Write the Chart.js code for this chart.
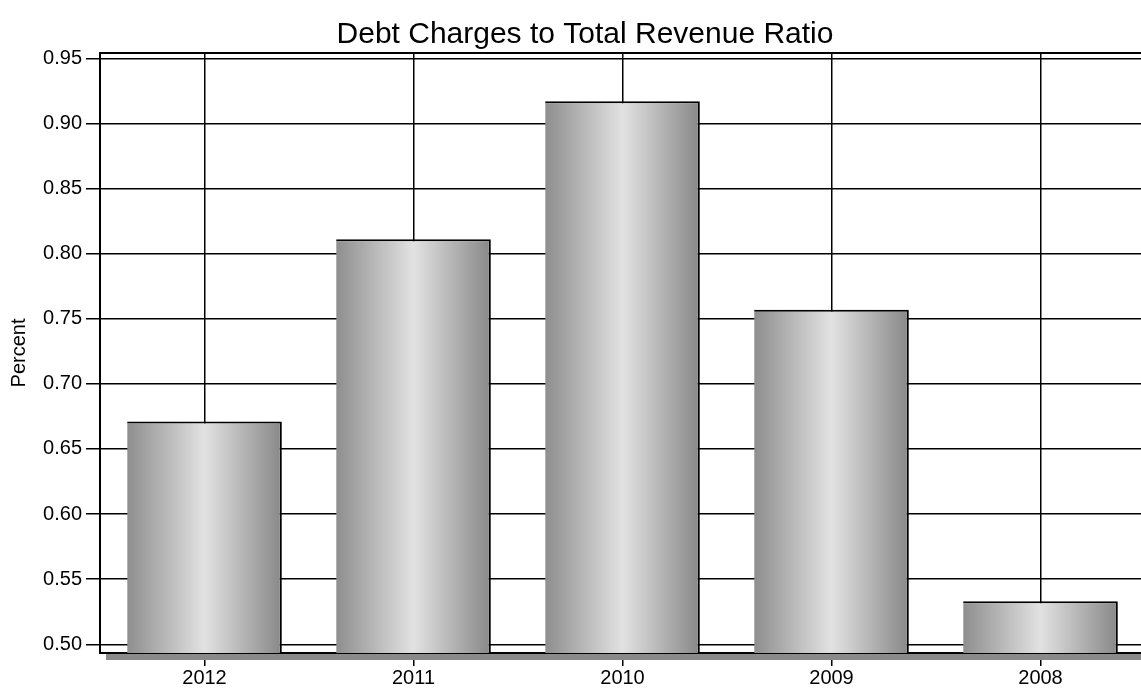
<!DOCTYPE html>
<html>
<head>
<meta charset="utf-8">
<script src="https://cdn.jsdelivr.net/npm/chart.js@4/dist/chart.umd.min.js"></script>
<style>
  html, body { margin: 0; padding: 0; background: #fff; overflow: hidden; }
  #wrap { width: 1145px; height: 688px; }
</style>
</head>
<body>
<div id="wrap"><canvas id="c" width="1145" height="688"></canvas></div>
<script>
// Fiscal years shown on the x axis, newest first
const years = ['2012', '2011', '2010', '2009', '2008'];
// Debt charges as a percentage of total revenue
const ratio = [0.671, 0.811, 0.917, 0.757, 0.533];
// Y axis tick values
const yTicks = [0.50, 0.55, 0.60, 0.65, 0.70, 0.75, 0.80, 0.85, 0.90, 0.95];

const TITLE = 'Debt Charges to Total Revenue Ratio';
const FONT = '"Liberation Sans", Arial, sans-serif';
const BAR_PCT = 0.74;

// Horizontal metallic gradient for each bar, placed from the category scale
function barFill(context) {
  const chart = context.chart;
  const xs = chart.scales && chart.scales.x;
  if (!chart.chartArea || !xs) return '#bbbbbb';
  const cx = xs.getPixelForValue(context.dataIndex);
  const w = (xs.width / years.length) * BAR_PCT;
  const g = chart.ctx.createLinearGradient(cx - w / 2, 0, cx + w / 2, 0);
  g.addColorStop(0, '#8e8e8e');
  g.addColorStop(0.5, '#e2e2e2');
  g.addColorStop(1, '#888888');
  return g;
}

// Heading, top frame line and a grey drop shadow under the x axis
const framePlugin = {
  id: 'frame',
  afterDraw(chart) {
    const { ctx, chartArea: a } = chart;
    ctx.save();
    ctx.fillStyle = '#8a8a8a';
    ctx.fillRect(a.left + 6, a.bottom + 1, a.right - a.left, 6);
    ctx.strokeStyle = '#000';
    ctx.lineWidth = 2;
    ctx.beginPath();
    ctx.moveTo(a.left, a.top);
    ctx.lineTo(a.right, a.top);
    ctx.stroke();
    ctx.fillStyle = '#000';
    ctx.font = '30px ' + FONT;
    ctx.textAlign = 'center';
    ctx.textBaseline = 'alphabetic';
    ctx.fillText(TITLE, 585, 43);
    ctx.restore();
  }
};

new Chart(document.getElementById('c'), {
  type: 'bar',
  data: {
    labels: years,
    datasets: [{
      data: ratio,
      backgroundColor: barFill,
      borderColor: '#000',
      borderWidth: { top: 2, right: 2, left: 0, bottom: 0 },
      borderSkipped: false,
      barPercentage: BAR_PCT,
      categoryPercentage: 1.0
    }]
  },
  options: {
    responsive: false,
    animation: false,
    layout: { padding: { left: 0, right: 0, top: 53, bottom: 0 } },
    plugins: {
      legend: { display: false },
      tooltip: { enabled: false },
      title: { display: false }
    },
    scales: {
      x: {
        offset: true,
        grid: {
          offset: false,
          color: '#000',
          lineWidth: 1.5,
          tickLength: 13,
          drawOnChartArea: true
        },
        border: { display: true, color: '#000', width: 2 },
        ticks: {
          color: '#000',
          padding: 0,
          font: { family: FONT, size: 20 }
        },
        afterFit(s) { s.height = 35; }
      },
      y: {
        min: 0.4933,
        max: 0.9541,
        afterBuildTicks(s) { s.ticks = yTicks.map(v => ({ value: v })); },
        grid: {
          color: '#000',
          lineWidth: 1.5,
          tickLength: 14
        },
        border: { display: true, color: '#000', width: 2 },
        ticks: {
          color: '#000',
          padding: 4,
          font: { family: FONT, size: 20 },
          callback: v => Number(v).toFixed(2)
        },
        title: {
          display: true,
          text: 'Percent',
          color: '#000',
          font: { family: FONT, size: 20 },
          padding: { top: 7, bottom: 0 }
        },
        afterFit(s) { s.width = 100; }
      }
    }
  },
  plugins: [framePlugin]
});
</script>
</body>
</html>
